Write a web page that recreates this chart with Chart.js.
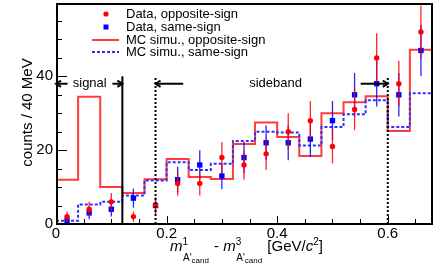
<!DOCTYPE html>
<html><head><meta charset="utf-8">
<script src="https://cdn.jsdelivr.net/npm/chart.js@4"></script>
<style>html,body{margin:0;padding:0;background:#fff}#wrap{width:436px;height:273px;position:relative}</style>
</head><body><div id="wrap"><canvas id="c" width="436" height="273"></canvas></div>
<script>
// ---- data ----
const binEdges = [0,0.04,0.08,0.12,0.16,0.20,0.24,0.28,0.32,0.36,0.40,0.44,0.48,0.52,0.56,0.60,0.64,0.68];
const mcOpposite = [12,34.5,10,8.4,12.1,17.6,12.7,12.2,21.7,27.5,23.6,18.4,30.0,33.0,34.6,25.2,47.2];
const mcSame     = [0.9,5.3,6.0,7.7,11.8,16.7,14.6,16.3,22.5,25.0,24.8,21.3,26.3,29.7,33.5,26.3,35.4];
const dataOpposite    = [2,4,6,2,5,11,11,18,16,19,25,28,21,31,45,38,52];
const dataOppositeErr = [1.4,2,2.4,1.4,2.2,3.3,3.3,4.2,4,4.4,5,5.3,4.6,5.6,6.7,6.2,7.2];
const dataSame        = [1,3,4,7,5,12,16,13,18,22,22,23,28,35,38,35,47];
const dataSameErr     = [1,1.7,2,2.6,2.2,3.5,4,3.6,4.2,4.7,4.7,4.8,5.3,5.9,6.2,5.9,6.9];
const xTickLabels = ['0','0.2','0.4','0.6'];
const yTickLabels = ['0','20','40'];
const legendLabels = ['Data, opposite-sign','Data, same-sign','MC simu., opposite-sign','MC simu., same-sign'];
const signalMax = 0.12, sidebandMin = 0.18, sidebandMax = 0.6, cutLineTop = 40, arrowLevel = 38;
const arrows = [[0.021,0],[0.102,0.12],[0.23,0.18],[0.551,0.6]];
const xMin = 0, xMax = 0.68, yMin = 0, yMax = 59.6;

// ---- build datasets ----
const centers = binEdges.slice(0,-1).map((e,i)=>(e+binEdges[i+1])/2);
function stepPoints(vals){
  // with stepped:'before' the segment [edge i, edge i+1] takes the value of point i
  const pts = vals.map((v,i)=>({x:binEdges[i], y:v}));
  pts.push({x:binEdges[binEdges.length-1], y:vals[vals.length-1]});
  return pts;
}
const FONT = "'Liberation Sans', Arial, Helvetica, sans-serif";

const errorBars = {
  id:'errorBars',
  beforeDatasetDraw(chart,args){
    const ds = chart.data.datasets[args.index];
    if(!ds.errors) return;
    const ctx = chart.ctx, xs = chart.scales.x, ys = chart.scales.y;
    ctx.save();
    ctx.strokeStyle = ds.errorColor; ctx.lineWidth = 1.3;
    ds.data.forEach((p,i)=>{
      const e = ds.errors[i], x = xs.getPixelForValue(p.x);
      ctx.beginPath();
      ctx.moveTo(x, ys.getPixelForValue(Math.max(p.y-e,yMin)));
      ctx.lineTo(x, ys.getPixelForValue(p.y+e));
      ctx.stroke();
    });
    ctx.restore();
  }
};

function arrow(ctx,x1,x2,y){
  const dir = Math.sign(x2-x1);
  ctx.beginPath(); ctx.moveTo(x1,y); ctx.lineTo(x2,y); ctx.stroke();
  ctx.beginPath(); ctx.moveTo(x2-dir*5,y-3.2); ctx.lineTo(x2,y); ctx.lineTo(x2-dir*5,y+3.2); ctx.stroke();
}

const decorations = {
  id:'decorations',
  afterDatasetsDraw(chart){
    const ctx = chart.ctx, xs = chart.scales.x, ys = chart.scales.y, a = chart.chartArea;
    ctx.save();
    ctx.strokeStyle = '#000'; ctx.lineWidth = 2;
    ctx.beginPath(); ctx.moveTo(xs.getPixelForValue(signalMax), a.bottom); ctx.lineTo(xs.getPixelForValue(signalMax), ys.getPixelForValue(cutLineTop)); ctx.stroke();
    ctx.setLineDash([2,2]);
    [sidebandMin,sidebandMax].forEach(v=>{
      const x = xs.getPixelForValue(v);
      ctx.beginPath(); ctx.moveTo(x, a.bottom); ctx.lineTo(x, ys.getPixelForValue(cutLineTop)); ctx.stroke();
    });
    ctx.setLineDash([]);
    const ay = ys.getPixelForValue(arrowLevel);
    arrows.forEach(([f,t])=>arrow(ctx, xs.getPixelForValue(f), xs.getPixelForValue(t), ay));
    ctx.fillStyle = '#000'; ctx.font = '13px '+FONT; ctx.textBaseline = 'middle'; ctx.textAlign = 'center';
    ctx.fillText('signal', xs.getPixelForValue(0.061), ay);
    ctx.fillText('sideband', xs.getPixelForValue(0.397), ay);
    ctx.restore();
  },
  afterDraw(chart){
    const ctx = chart.ctx, xs = chart.scales.x, ys = chart.scales.y, a = chart.chartArea;
    ctx.save();
    ctx.strokeStyle = '#000'; ctx.lineWidth = 1;
    xs.ticks.forEach(t=>{
      const x = Math.round(xs.getPixelForValue(t.value))+0.5, major = t.label !== '';
      ctx.beginPath(); ctx.moveTo(x,a.bottom); ctx.lineTo(x,a.bottom-(major?8:5)); ctx.stroke();
    });
    ys.ticks.forEach(t=>{
      const y = Math.round(ys.getPixelForValue(t.value))+0.5, major = t.label !== '';
      ctx.beginPath(); ctx.moveTo(a.left,y); ctx.lineTo(a.left+(major?11:6),y); ctx.stroke();
    });
    ctx.lineWidth = 2;
    ctx.strokeRect(a.left+1, a.top, a.right-a.left-1, a.bottom-a.top);
    // legend
    const rows = [14,27,40,52];
    ctx.font = '13px '+FONT; ctx.textBaseline = 'middle'; ctx.textAlign = 'left'; ctx.fillStyle = '#000';
    legendLabels.forEach((lab,i)=>ctx.fillText(lab,126,rows[i]));
    ctx.fillStyle = '#ff0000'; ctx.beginPath(); ctx.arc(106,rows[0],2.6,0,2*Math.PI); ctx.fill();
    ctx.fillStyle = '#0000ff'; ctx.fillRect(103.5,rows[1]-2.5,5,5);
    ctx.strokeStyle = '#ff3c3c'; ctx.lineWidth = 2;
    ctx.beginPath(); ctx.moveTo(92,rows[2]); ctx.lineTo(119,rows[2]); ctx.stroke();
    ctx.strokeStyle = '#3030ff'; ctx.setLineDash([3,2]);
    ctx.beginPath(); ctx.moveTo(92,rows[3]); ctx.lineTo(119,rows[3]); ctx.stroke();
    ctx.setLineDash([]);
    // y title
    ctx.fillStyle = '#000';
    ctx.save(); ctx.translate(32, 112.5); ctx.rotate(-Math.PI/2);
    ctx.font = '15px '+FONT; ctx.textAlign = 'center'; ctx.textBaseline = 'alphabetic';
    ctx.fillText('counts / 40 MeV',0,0); ctx.restore();
    // x title with sub/superscripts
    const base = 251; let x = 170;
    ctx.textAlign = 'left'; ctx.textBaseline = 'alphabetic';
    const run = (txt,font,dy)=>{ ctx.font = font; ctx.fillText(txt,x,base+dy); return ctx.measureText(txt).width; };
    const main = '15px '+FONT, ital = 'italic 15px '+FONT, sup = '10px '+FONT, sub = '10px '+FONT, sub2 = '8px '+FONT;
    const stacked = (s)=>{
      const x0 = x;
      const w1 = run(s,sup,-6);
      x = x0 + 0.5; let w2 = run("A'",sub,10); x += w2; w2 += run('cand',sub2,11.5);
      x = x0 + Math.max(w1, w2 + 0.5) + 1;
    };
    x += run('m',ital,0); stacked('1');
    x += run(' - ',main,0);
    x += run('m',ital,0); stacked('3');
    x += run(' [GeV/',main,0);
    x += run('c',ital,0);
    x += run('2',sup,-6);
    x += run(']',main,0);
    ctx.restore();
  }
};

new Chart(document.getElementById('c'), {
  type:'scatter',
  data:{datasets:[
    {label:legendLabels[0], type:'scatter', data:centers.map((c,i)=>({x:c,y:dataOpposite[i]})), errors:dataOppositeErr, errorColor:'rgba(255,0,0,0.85)',
     pointStyle:'circle', pointRadius:2.7, backgroundColor:'#ff0000', borderColor:'#ff0000', borderWidth:0},
    {label:legendLabels[1], type:'scatter', data:centers.map((c,i)=>({x:c,y:dataSame[i]})), errors:dataSameErr, errorColor:'rgba(0,0,255,0.85)',
     pointStyle:'rect', pointRadius:3.8, backgroundColor:'#0000ff', borderColor:'#0000ff', borderWidth:0},
    {label:legendLabels[3], type:'line', data:stepPoints(mcSame), stepped:'before', borderColor:'#3030ff', borderWidth:2, borderDash:[3,2], pointRadius:0, fill:false},
    {label:legendLabels[2], type:'line', data:stepPoints(mcOpposite), stepped:'before', borderColor:'#ff3c3c', borderWidth:2, pointRadius:0, fill:false}
  ]},
  options:{
    responsive:false, animation:false, devicePixelRatio:1,
    layout:{padding:{top:2,right:4,left:0,bottom:0}},
    plugins:{legend:{display:false}, tooltip:{enabled:false}},
    scales:{
      x:{type:'linear', min:xMin, max:xMax, grid:{display:false, drawTicks:false}, border:{display:false},
         afterFit(s){ s.height = 49; s.paddingLeft = 0; s.paddingRight = 0; },
         ticks:{stepSize:0.05, includeBounds:false, autoSkip:false, maxRotation:0, padding:1, color:'#000', font:{family:FONT,size:15},
           callback(v){ const r = Math.round(v*100); return r%20===0 ? xTickLabels[r/20] : ''; }}},
      y:{type:'linear', min:yMin, max:yMax, grid:{display:false, drawTicks:false}, border:{display:false},
         afterFit(s){ s.width = 56; s.paddingTop = 0; s.paddingBottom = 0; },
         ticks:{stepSize:5, includeBounds:false, autoSkip:false, padding:3, color:'#000', font:{family:FONT,size:15},
           callback(v){ const r = Math.round(v); return r%20===0 ? yTickLabels[r/20] : ''; }}}
    }
  },
  plugins:[errorBars, decorations]
});
</script></body></html>
